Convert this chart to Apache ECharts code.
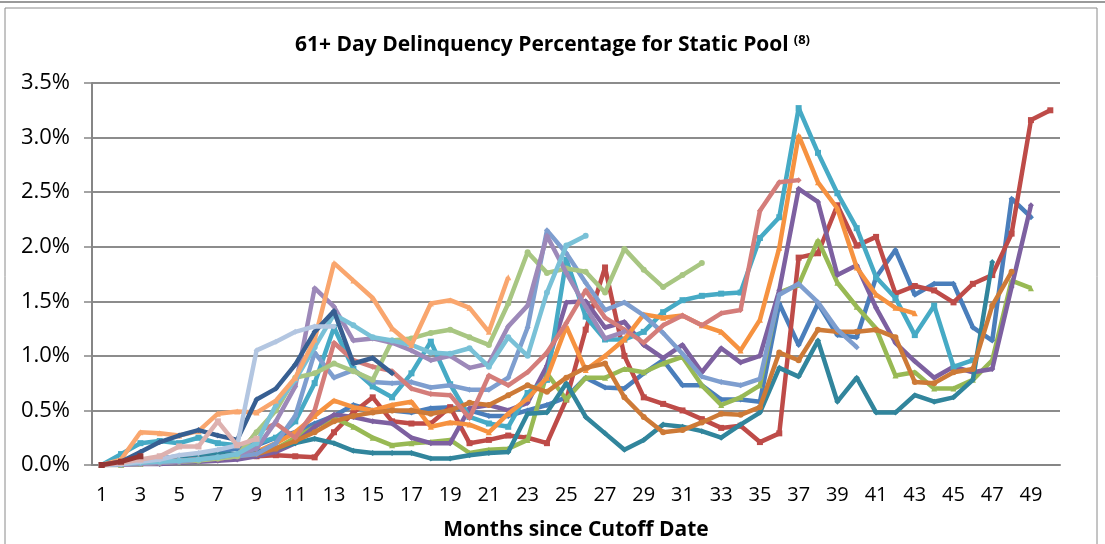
<!DOCTYPE html>
<html>
<head>
<meta charset="utf-8">
<script src="https://cdn.jsdelivr.net/npm/echarts@6/dist/echarts.min.js"></script>
<style>
  html, body { margin: 0; padding: 0; background: #fff; }
  #chart { width: 1105px; height: 544px; }
</style>
</head>
<body>
<div id="chart"></div>
<script>
// months since cutoff date
const months = ['1','2','3','4','5','6','7','8','9','10','11','12','13','14','15','16','17','18','19','20',
  '21','22','23','24','25','26','27','28','29','30','31','32','33','34','35','36','37','38','39','40',
  '41','42','43','44','45','46','47','48','49','50']

// 61+ day delinquency (%) per static pool, oldest first
const pool01 = [0, 0.02, 0.04, 0.06, 0.08, 0.1, 0.12, 0.15, 0.18, 0.25, 0.3, 0.38,
  0.45, 0.55, 0.5, 0.5, 0.48, 0.52, 0.53, 0.5, 0.45, 0.45, 0.5, 0.55,
  0.62, 0.8, 0.71, 0.7, 0.84, 0.96, 0.73, 0.73, 0.6, 0.6, 0.58, 1.48,
  1.1, 1.48, 1.19, 1.17, 1.72, 1.97, 1.56, 1.66, 1.66, 1.26, 1.14, 2.44, 2.27]
const pool02 = [0, 0.01, 0.02, 0.03, 0.04, 0.05, 0.06, 0.07, 0.08, 0.09, 0.08, 0.07,
  0.3, 0.48, 0.62, 0.4, 0.38, 0.38, 0.53, 0.2, 0.23, 0.27, 0.25, 0.2,
  0.6, 1.24, 1.81, 1.0, 0.62, 0.56, 0.5, 0.42, 0.34, 0.36, 0.21, 0.29,
  1.9, 1.94, 2.38, 2.01, 2.09, 1.57, 1.64, 1.6, 1.49, 1.66, 1.74, 2.12, 3.16, 3.25]
const pool03 = [0, 0, 0.01, 0.02, 0.03, 0.04, 0.05, 0.07, 0.1, 0.15, 0.25, 0.35,
  0.43, 0.35, 0.25, 0.18, 0.2, 0.21, 0.23, 0.11, 0.14, 0.15, 0.23, 0.84,
  0.6, 0.8, 0.8, 0.88, 0.85, 0.93, 0.99, 0.73, 0.55, 0.62, 0.73, 1.58,
  1.65, 2.06, 1.67, 1.45, 1.25, 0.82, 0.85, 0.7, 0.7, 0.78, 0.96, 1.69, 1.62]
const pool04 = [0, 0, 0.01, 0.01, 0.02, 0.03, 0.04, 0.05, 0.08, 0.12, 0.2, 0.35,
  0.46, 0.44, 0.4, 0.38, 0.25, 0.2, 0.2, 0.52, 0.55, 0.5, 0.57, 0.91,
  1.49, 1.5, 1.26, 1.31, 1.1, 0.98, 1.1, 0.85, 1.07, 0.94, 1.0, 1.6,
  2.53, 2.41, 1.74, 1.83, 1.44, 1.12, 0.95, 0.8, 0.9, 0.85, 0.88, 1.63, 2.38]
const pool05 = [0, 0.1, 0.2, 0.22, 0.2, 0.25, 0.2, 0.18, 0.2, 0.25, 0.4, 0.75,
  1.26, 0.88, 0.72, 0.62, 0.84, 1.13, 0.74, 0.44, 0.38, 0.35, 0.66, 0.78,
  1.88, 1.36, 1.15, 1.15, 1.22, 1.4, 1.51, 1.55, 1.57, 1.58, 2.08, 2.27,
  3.27, 2.86, 2.49, 2.17, 1.72, 1.53, 1.19, 1.46, 0.9, 0.96]
const pool06 = [0, 0.01, 0.02, 0.03, 0.04, 0.06, 0.08, 0.1, 0.12, 0.2, 0.3, 0.45,
  0.59, 0.53, 0.5, 0.55, 0.58, 0.35, 0.39, 0.37, 0.3, 0.47, 0.61, 0.8,
  1.27, 0.87, 1.0, 1.15, 1.38, 1.35, 1.37, 1.28, 1.22, 1.05, 1.33, 1.99,
  3.02, 2.59, 2.35, 1.81, 1.56, 1.44, 1.39]
const pool07 = [0, 0.02, 0.04, 0.05, 0.06, 0.08, 0.1, 0.1, 0.12, 0.15, 0.2, 0.24,
  0.2, 0.13, 0.11, 0.11, 0.11, 0.06, 0.06, 0.09, 0.11, 0.12, 0.47, 0.48,
  0.75, 0.44, 0.29, 0.14, 0.23, 0.37, 0.35, 0.31, 0.25, 0.37, 0.48, 0.89,
  0.81, 1.14, 0.58, 0.8, 0.48, 0.48, 0.64, 0.58, 0.62, 0.78, 1.86]
const pool08 = [0, 0.01, 0.02, 0.03, 0.04, 0.05, 0.06, 0.08, 0.1, 0.15, 0.22, 0.3,
  0.4, 0.45, 0.48, 0.5, 0.5, 0.47, 0.5, 0.57, 0.55, 0.64, 0.73, 0.67,
  0.8, 0.89, 0.93, 0.62, 0.44, 0.3, 0.32, 0.39, 0.47, 0.46, 0.53, 1.03,
  0.96, 1.24, 1.22, 1.22, 1.24, 1.17, 0.76, 0.75, 0.85, 0.88, 1.46, 1.77]
const pool09 = [0, 0.01, 0.02, 0.03, 0.04, 0.05, 0.06, 0.08, 0.1, 0.2, 0.45, 1.03,
  0.8, 0.87, 0.76, 0.75, 0.76, 0.71, 0.73, 0.69, 0.69, 0.8, 1.26, 2.15,
  1.94, 1.67, 1.42, 1.49, 1.37, 1.21, 1.02, 0.81, 0.76, 0.73, 0.79, 1.56,
  1.66, 1.49, 1.24, 1.08]
const pool10 = [0, 0.01, 0.02, 0.03, 0.04, 0.05, 0.06, 0.08, 0.3, 0.38, 0.25, 0.5,
  1.12, 0.96, 0.9, 0.86, 0.7, 0.65, 0.64, 0.43, 0.82, 0.73, 0.85, 1.03,
  1.3, 1.6, 1.35, 1.24, 1.12, 1.28, 1.37, 1.28, 1.39, 1.42, 2.33, 2.59, 2.61]
const pool11 = [0, 0, 0.01, 0.02, 0.03, 0.04, 0.06, 0.08, 0.3, 0.5, 0.8, 0.84,
  0.93, 0.86, 0.78, 1.14, 1.16, 1.21, 1.24, 1.17, 1.1, 1.48, 1.95, 1.76,
  1.8, 1.77, 1.58, 1.98, 1.79, 1.63, 1.74, 1.85]
const pool12 = [0, 0, 0.01, 0.02, 0.03, 0.05, 0.07, 0.1, 0.15, 0.4, 0.72, 1.62,
  1.45, 1.14, 1.16, 1.12, 1.05, 0.96, 1.0, 0.89, 0.93, 1.27, 1.46, 2.1,
  1.76, 1.45, 1.16, 1.22]
const pool13 = [0, 0.01, 0.02, 0.03, 0.04, 0.05, 0.07, 0.1, 0.2, 0.55, 0.78, 1.08,
  1.38, 1.28, 1.17, 1.14, 1.1, 1.03, 1.02, 1.07, 0.9, 1.17, 1.0, 1.58, 2.01, 2.1]
const pool14 = [0, 0.05, 0.3, 0.29, 0.27, 0.31, 0.47, 0.49, 0.48, 0.59, 0.8, 1.15,
  1.85, 1.69, 1.53, 1.25, 1.1, 1.48, 1.51, 1.44, 1.22, 1.72]
const pool15 = [0, 0.03, 0.12, 0.21, 0.27, 0.32, 0.27, 0.23, 0.6, 0.7, 0.92, 1.22,
  1.41, 0.93, 0.98, 0.84]
const pool16 = [0, 0.01, 0.03, 0.05, 0.09, 0.11, 0.14, 0.18, 1.05, 1.13, 1.22, 1.27, 1.27]
const pool17 = [0, 0.02, 0.05, 0.08, 0.17, 0.17, 0.4, 0.18, 0.24]
const pool18 = [0, 0.03, 0.08]

const pools = [pool01, pool02, pool03, pool04, pool05, pool06, pool07, pool08, pool09,
  pool10, pool11, pool12, pool13, pool14, pool15, pool16, pool17, pool18]
const colors = ['#4A7EBB', '#BE4B48', '#98B954', '#7D60A0', '#46AAC5', '#F69240',
  '#31859C', '#CD7A37', '#7E9ECF', '#D47D7A', '#A8C682', '#9D89B9',
  '#79C1D7', '#F9A66E', '#375F92', '#B3C6E1', '#DDB1AF', '#943634']
const symbols = ['diamond', 'rect', 'triangle', 'diamond', 'rect', 'triangle',
  'diamond', 'circle', 'diamond', 'diamond', 'circle', 'diamond',
  'circle', 'triangle', 'diamond', 'diamond', 'rect', 'rect']

const font = '"Open Sans", sans-serif'

let myChart = echarts.init(document.getElementById('chart'))
myChart.setOption({
  animation: false,
  backgroundColor: '#fff',
  graphic: [
    { type: 'line', shape: { x1: 0, y1: 2, x2: 1105, y2: 2 }, style: { stroke: '#9a9a9a', lineWidth: 2 } },
    { type: 'rect', shape: { x: 5, y: 8, width: 1092, height: 560 }, style: { fill: 'none', stroke: '#8a8a8a', lineWidth: 1 } }
  ],
  title: {
    text: '{t|61+ Day Delinquency Percentage for Static Pool} {s|(8)}',
    left: 'center',
    top: 29,
    textStyle: {
      rich: {
        t: { fontFamily: font, fontSize: 21, fontWeight: 'bold', color: '#000' },
        s: { fontFamily: font, fontSize: 13, fontWeight: 'bold', color: '#000', verticalAlign: 'top', padding: [0, 0, 10, 0] }
      }
    }
  },
  grid: {
    left: 92,
    right: 45,
    top: 83,
    bottom: 79,
    outerBoundsMode: 'none'
  },
  xAxis: {
    type: 'category',
    data: months,
    boundaryGap: true,
    name: 'Months since Cutoff Date',
    nameLocation: 'middle',
    nameGap: 55,
    nameTextStyle: { fontFamily: font, fontSize: 21, fontWeight: 'bold', color: '#000' },
    axisLine: { lineStyle: { color: '#868686', width: 2 } },
    axisTick: { interval: 0, length: 6, lineStyle: { color: '#868686', width: 1.5 } },
    axisLabel: { interval: 1, margin: 20, fontFamily: font, fontSize: 20, color: '#000' }
  },
  yAxis: {
    type: 'value',
    min: 0,
    max: 3.5,
    interval: 0.5,
    axisLine: { show: true, lineStyle: { color: '#868686', width: 2 } },
    axisTick: { show: true, length: 8, lineStyle: { color: '#868686', width: 1.5 } },
    splitLine: { lineStyle: { color: '#8c8c8c', width: 2 } },
    axisLabel: {
      margin: 22,
      fontFamily: font,
      fontSize: 22,
      color: '#000',
      formatter: function (v) { return v.toFixed(1) + '%' }
    }
  },
  series: pools.map(function (d, i) {
    return {
      name: 'Pool ' + (i + 1),
      type: 'line',
      data: d,
      color: colors[i],
      symbol: symbols[i],
      symbolSize: 6,
      lineStyle: { width: 4.5 },
      z: 2 + i
    }
  })
})
</script>
</body>
</html>
